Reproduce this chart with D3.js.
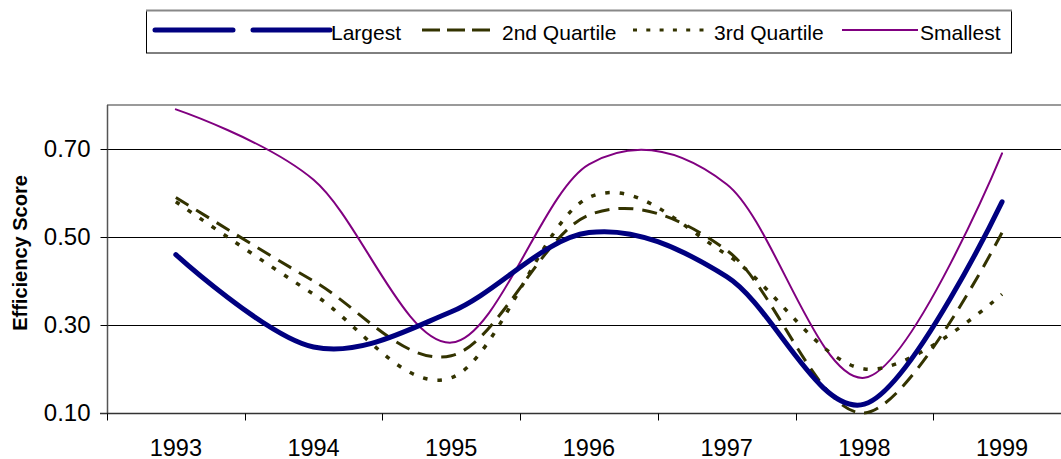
<!DOCTYPE html>
<html>
<head>
<meta charset="utf-8">
<script src="https://cdn.jsdelivr.net/npm/d3@7"></script>
<style>
  html, body { margin: 0; padding: 0; background: #fff; }
  svg { display: block; font-family: "Liberation Sans", Arial, sans-serif; }
</style>
</head>
<body>
<svg id="chart" width="1061" height="459"></svg>
<script>
const years = ["1993", "1994", "1995", "1996", "1997", "1998", "1999"];
const largest   = [0.46, 0.25, 0.33, 0.51, 0.41, 0.12, 0.58];
const quartile2 = [0.59, 0.40, 0.23, 0.55, 0.47, 0.10, 0.51];
const quartile3 = [0.58, 0.37, 0.18, 0.59, 0.46, 0.20, 0.37];
const smallest  = [0.79, 0.63, 0.26, 0.665, 0.62, 0.18, 0.69];
const yTicks = [0.10, 0.30, 0.50, 0.70];
const seriesNames = ["Largest", "2nd Quartile", "3rd Quartile", "Smallest"];
const yTitle = "Efficiency Score";

(function () {
const series = [
  { name: seriesNames[0], values: largest,   color: "#000080", width: 5,   dash: null,    legendDash: "78 20", legendX: [155, 330], textX: 331 },
  { name: seriesNames[1], values: quartile2, color: "#333300", width: 3,   dash: "15 9",  legendDash: "18 7",  legendX: [422, 496], textX: 502 },
  { name: seriesNames[2], values: quartile3, color: "#333300", width: 3.5, dash: "4.5 10", legendDash: "4 9.3", legendX: [633, 704], textX: 714 },
  { name: seriesNames[3], values: smallest,  color: "#800080", width: 2,   dash: null,    legendDash: null,    legendX: [842, 918], textX: 920 }
];

const svg = d3.select("#chart");
const pLeft = 107, pTop = 105, pBottom = 413, pRight = 107 + 7 * 137.7;

const x = d3.scaleBand().domain(years).range([pLeft, pRight]).paddingInner(0).paddingOuter(0);
const y = d3.scaleLinear().domain([0.1, 0.8]).range([pBottom, pTop]);

// top border of plot area
svg.append("line").attr("x1", pLeft).attr("x2", pRight).attr("y1", pTop).attr("y2", pTop)
  .attr("stroke", "#9a9a9a").attr("stroke-width", 2);

// gridlines
svg.append("g").selectAll("line").data(yTicks.slice(1)).join("line")
  .attr("x1", pLeft).attr("x2", pRight)
  .attr("y1", d => Math.round(y(d)) + 0.5).attr("y2", d => Math.round(y(d)) + 0.5)
  .attr("stroke", "#000").attr("stroke-width", 1);

// y axis
const yAxis = d3.axisLeft(y).tickValues(yTicks).tickFormat(d3.format(".2f")).tickSize(7).tickPadding(10);
const gy = svg.append("g").attr("transform", `translate(${pLeft + 0.5},0)`).call(yAxis);
gy.select(".domain").attr("d", `M0,${pTop}V${pBottom}`).attr("stroke", "#555").attr("stroke-width", 1.5);
gy.selectAll(".tick line").attr("stroke", "#000");
gy.selectAll(".tick text").attr("font-size", 24).attr("fill", "#000")
  .attr("font-family", "'Liberation Sans', Arial, sans-serif");

// x axis (ticks at category boundaries)
const gx = svg.append("g").attr("transform", `translate(0,${pBottom + 0.5})`);
gx.append("line").attr("x1", pLeft - 7).attr("x2", pRight).attr("y1", 0).attr("y2", 0)
  .attr("stroke", "#333").attr("stroke-width", 1.5);
const boundaries = years.map(d => x(d));
gx.selectAll("line.tk").data(boundaries).join("line").attr("class", "tk")
  .attr("x1", d => Math.round(d) + 0.5).attr("x2", d => Math.round(d) + 0.5)
  .attr("y1", 0).attr("y2", 7).attr("stroke", "#000");
gx.selectAll("text").data(years).join("text")
  .attr("x", d => x(d) + x.bandwidth() / 2).attr("y", 42)
  .attr("text-anchor", "middle").attr("font-size", 23.5).attr("fill", "#000")
  .text(d => d);

// y title
svg.append("text")
  .attr("transform", `translate(27,253) rotate(-90)`)
  .attr("text-anchor", "middle").attr("font-size", 20).attr("font-weight", "bold")
  .text(yTitle);

// lines
const line = d3.line()
  .x((d, i) => x(years[i]) + x.bandwidth() / 2)
  .y(d => y(d))
  .curve(d3.curveCatmullRom.alpha(0));

const plot = svg.append("g");
[series[3], series[2], series[1], series[0]].forEach(s => {
  plot.append("path").datum(s.values)
    .attr("d", line)
    .attr("fill", "none")
    .attr("stroke", s.color)
    .attr("stroke-width", s.width)
    .attr("stroke-linecap", s.dash ? "butt" : "round")
    .attr("stroke-linejoin", "round")
    .attr("stroke-dasharray", s.dash);
});

// legend
const lg = svg.append("g");
lg.append("rect").attr("x", 146.5).attr("y", 10.5).attr("width", 865).attr("height", 42.5)
  .attr("fill", "#fff").attr("stroke", "#000").attr("stroke-width", 1);
lg.append("line").attr("x1", 146).attr("x2", 1012).attr("y1", 10.5).attr("y2", 10.5)
  .attr("stroke", "#888").attr("stroke-width", 2);
const ly = 30;
series.forEach(s => {
  lg.append("line")
    .attr("x1", s.legendX[0]).attr("x2", s.legendX[1]).attr("y1", ly).attr("y2", ly)
    .attr("stroke", s.color).attr("stroke-width", s.name === "3rd Quartile" ? 3 : s.width)
    .attr("stroke-linecap", s.name === "Largest" ? "round" : "butt")
    .attr("stroke-dasharray", s.legendDash);
  lg.append("text").attr("x", s.textX).attr("y", 40)
    .attr("font-size", 21).attr("fill", "#000").text(s.name);
});
})();
</script>
</body>
</html>
